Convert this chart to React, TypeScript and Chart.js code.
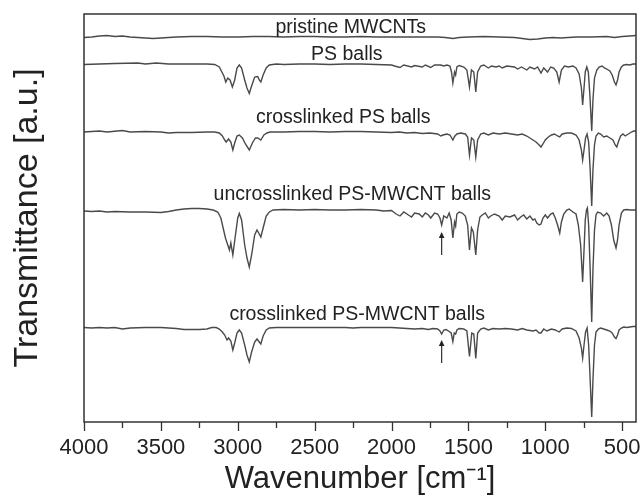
import { useEffect, useRef } from "react";
import { Chart, registerables } from "chart.js";

Chart.register(...registerables);

// ---- axis ticks (wavenumber, cm^-1) ----
const xTickValues = [4000, 3500, 3000, 2500, 2000, 1500, 1000, 500];
const xMinorTickValues = [3750, 3250, 2750, 2250, 1750, 1250, 750];

// ---- series names and vertical offsets (a.u.) ----
const seriesNames = [
  "pristine MWCNTs",
  "PS balls",
  "crosslinked PS balls",
  "uncrosslinked PS-MWCNT balls",
  "crosslinked PS-MWCNT balls",
];
const seriesOffsets = [385, 358, 290, 212, 94];

// ---- spectra: [wavenumber, relative transmittance] ----
const pristineMWCNTs: [number, number][] = [
  [4000, -0.5], [3950, 0], [3900, 1], [3850, 1.5], [3800, 0.5], [3750, 1], [3700, 0], [3650, -0.5],
  [3600, -1], [3550, -1.5], [3500, -1], [3450, -0.5], [3400, 0], [3300, 0.5], [3200, 0.5], [3100, 0],
  [3000, 0], [2900, 0.5], [2800, 0.5], [2700, 0], [2600, 0.5], [2500, 0.5], [2400, 0], [2300, 0],
  [2200, 0.5], [2100, 0], [2000, 0], [1900, 0], [1800, 0], [1700, 0], [1650, -0.5], [1600, -1.5],
  [1560, -0.5], [1500, 0], [1400, 0.5], [1300, 0], [1200, -0.5], [1150, -1.5], [1100, -2.5], [1050, -2],
  [1000, -1], [950, -0.5], [900, -1], [850, -0.5], [800, 0], [700, 0], [600, 0.5], [550, -0.5],
  [500, 0.5], [450, 1], [410, 1.5],
];

const psBalls: [number, number][] = [
  [4000, -0.5], [3900, 0], [3800, 0.5], [3650, 1], [3600, 0], [3530, 1], [3450, 0], [3300, 0],
  [3200, 0], [3150, -0.5], [3120, -3], [3100, -9], [3090, -12], [3078, -18], [3065, -14], [3050, -16],
  [3035, -23], [3020, -16], [3005, -4], [2990, -1], [2975, -4], [2955, -16], [2940, -24], [2925, -29.5],
  [2910, -22], [2890, -13], [2870, -12.5], [2860, -16], [2850, -18], [2835, -11], [2815, -4], [2795, -1],
  [2750, 0], [2700, -0.5], [2600, 0], [2500, 0], [2400, -0.5], [2300, 0], [2200, 0], [2100, -0.5],
  [2000, -1], [1980, -2], [1945, -3.5], [1920, -1], [1870, -3], [1850, -1.5], [1800, -3], [1780, -1],
  [1745, -3.5], [1720, -1], [1680, -1], [1660, -2], [1640, -1], [1620, -2], [1610, -8], [1601, -19],
  [1590, -8], [1583, -11], [1575, -3], [1560, -1.5], [1530, -3], [1510, -6], [1493, -23], [1480, -6],
  [1465, -8], [1452, -28], [1440, -8], [1420, -2], [1400, -1], [1370, -4], [1350, -2], [1320, -3],
  [1300, -2], [1280, -4], [1250, -2], [1200, -3], [1180, -5], [1155, -3], [1120, -6], [1100, -3],
  [1070, -5], [1050, -3], [1028, -9], [1010, -4], [985, -8], [965, -3], [945, -4], [925, -8],
  [910, -18], [895, -6], [875, -2], [850, -3], [820, -2], [800, -4], [780, -10], [765, -24],
  [757, -41], [748, -24], [740, -8], [730, -3], [720, -8], [710, -31], [698, -67], [690, -36],
  [680, -14], [665, -6], [650, -3], [630, -2], [615, -4], [600, -5], [580, -7], [565, -11],
  [550, -18], [540, -21], [530, -16], [520, -8], [505, -3], [490, -1], [470, -0.5], [450, -1],
  [430, 0], [410, 0],
];

const crosslinkedPSBalls: [number, number][] = [
  [4000, 0], [3950, 0.5], [3900, 1], [3850, 0], [3750, 1.5], [3700, 0], [3600, 0.5], [3500, 0],
  [3450, -1], [3400, -0.5], [3300, -0.5], [3200, 0], [3150, 0], [3120, -1], [3100, -4], [3085, -8],
  [3075, -10], [3060, -7], [3045, -10], [3032, -18], [3020, -11], [3005, -4], [2990, -3], [2970, -6],
  [2950, -12], [2925, -18], [2905, -11], [2885, -6], [2870, -6], [2850, -8], [2830, -3], [2810, -1],
  [2790, 0], [2700, 0], [2600, 0.5], [2500, 0.5], [2400, 0], [2300, 0.5], [2200, 0.5], [2100, 0],
  [2000, -0.5], [1950, 0], [1900, -1], [1850, -0.5], [1800, -1.5], [1750, -1], [1700, -2], [1680, -4],
  [1665, -3], [1640, -2], [1620, -3], [1601, -8], [1590, -4.5], [1575, -2], [1550, -1], [1520, -2],
  [1505, -5], [1493, -23], [1480, -6], [1465, -8], [1452, -25], [1440, -8], [1420, -2], [1400, -1],
  [1370, -3], [1340, -1], [1300, -2], [1260, -1], [1220, -2], [1180, -3], [1150, -2], [1120, -4],
  [1090, -7], [1060, -10], [1040, -13], [1028, -15], [1015, -12], [1000, -8], [980, -5], [960, -3],
  [940, -2], [920, -4], [906, -5], [890, -2], [860, -1], [830, -1], [800, -3], [780, -8],
  [765, -18], [757, -28], [748, -18], [738, -6], [728, -2], [718, -10], [708, -38], [698, -74],
  [690, -38], [680, -13], [670, -4], [655, -1], [640, -2], [620, -5], [600, -4], [580, -6],
  [560, -8], [545, -13], [535, -15], [525, -10], [510, -4], [495, -2], [480, -4], [460, -2],
  [440, 0], [425, 1], [410, 1],
];

const uncrosslinkedPSMWCNT: [number, number][] = [
  [4000, -1], [3950, -1.5], [3900, -1], [3850, -2], [3800, -1.5], [3700, -2], [3600, -2], [3500, -2.5],
  [3450, -1.5], [3400, 0], [3350, 1], [3300, 1.5], [3250, 1.5], [3200, 1], [3160, 0], [3130, -2],
  [3110, -8], [3095, -18], [3080, -28], [3065, -35], [3054, -40], [3045, -33], [3032, -45], [3015, -25],
  [3000, -8], [2990, -3.5], [2975, -10], [2955, -35], [2940, -48], [2925, -57], [2910, -45], [2890, -25],
  [2875, -20], [2860, -24], [2850, -27], [2835, -18], [2815, -6], [2795, -2], [2770, 0], [2700, 0.5],
  [2600, 0], [2500, 0.5], [2400, 0], [2300, 0], [2200, 0.5], [2100, 0], [2050, -1], [2000, -0.5],
  [1970, -4], [1945, -6], [1920, -2], [1890, -5], [1870, -7], [1850, -3], [1820, -4], [1800, -7],
  [1780, -3], [1760, -5], [1745, -8], [1720, -3], [1700, -4], [1685, -8], [1674, -15], [1660, -6],
  [1640, -8], [1625, -3], [1612, -10], [1601, -28], [1590, -12], [1583, -16], [1575, -4], [1560, -2],
  [1540, -3], [1520, -6], [1505, -15], [1493, -40], [1480, -18], [1468, -22], [1452, -45], [1440, -20],
  [1425, -7], [1410, -5], [1390, -3], [1370, -8], [1355, -6], [1330, -4], [1300, -6], [1280, -10],
  [1260, -6], [1230, -7], [1200, -5], [1180, -10], [1160, -7], [1140, -5], [1120, -9], [1100, -6],
  [1080, -10], [1068, -9], [1055, -13], [1040, -15], [1028, -14], [1015, -8], [1000, -5], [985, -8],
  [965, -4], [950, -3], [935, -8], [920, -15], [906, -23], [895, -12], [880, -4], [860, 0],
  [845, 1], [820, -2], [800, -4], [785, -15], [770, -35], [757, -72], [748, -40], [740, -10],
  [732, 0], [726, 2], [718, -15], [708, -60], [698, -112], [690, -60], [680, -20], [670, -5],
  [660, -2], [640, -3], [620, -6], [600, -3], [585, -6], [570, -15], [555, -30], [540, -38],
  [530, -30], [520, -15], [505, -3], [490, 0], [470, 0.5], [450, 0], [430, 0], [410, 0],
];

const crosslinkedPSMWCNT: [number, number][] = [
  [4000, 0.5], [3950, 0], [3900, 0.5], [3850, 0], [3800, 0.5], [3750, -1], [3700, 0], [3600, 0.5],
  [3500, 0.5], [3400, -0.5], [3350, -1.5], [3250, -1.5], [3200, -1], [3170, 0.5], [3140, 0.5], [3120, -1],
  [3100, -4], [3085, -7], [3070, -12], [3060, -10], [3045, -13], [3032, -22], [3020, -15], [3005, -5],
  [2990, -2], [2975, -5], [2955, -17], [2940, -27], [2925, -34], [2910, -24], [2890, -14], [2875, -11],
  [2860, -14], [2850, -16], [2835, -8], [2815, -2], [2795, 0], [2750, 0.5], [2700, 0.5], [2600, 0.5],
  [2500, 0.5], [2400, 0.5], [2300, 0.5], [2250, 0], [2200, 0.5], [2100, 0.5], [2000, 0.5], [1950, 0],
  [1900, -0.5], [1850, -1], [1800, -0.5], [1760, -1.5], [1730, -0.5], [1700, -1], [1685, -3], [1674, -6],
  [1660, -2], [1645, -1.5], [1630, -3], [1612, -5], [1601, -13.5], [1592, -5], [1583, -6], [1575, -2],
  [1560, -0.5], [1530, -1], [1510, -3], [1493, -28.5], [1478, -5], [1465, -6], [1452, -30.5], [1440, -5],
  [1420, -1], [1400, 0], [1370, -2], [1340, -0.5], [1300, -1], [1260, -0.5], [1220, -1], [1180, -2],
  [1150, -0.5], [1120, -2], [1080, -3], [1060, -2], [1040, -5], [1028, -5], [1010, -1], [990, -3],
  [960, -1], [935, -2], [910, -4], [890, -1], [860, 0], [830, -0.5], [800, -3], [780, -10],
  [765, -20], [757, -30], [748, -17], [738, -4], [728, 0], [718, -17], [708, -52], [698, -89],
  [690, -52], [680, -17], [670, -4], [655, -1], [640, 0], [620, -1], [600, -2], [580, -3],
  [565, -5], [550, -9], [540, -10.5], [530, -7], [520, -2], [505, 0], [490, 1], [470, 0.5],
  [450, 1], [430, 1.5], [410, 1.5],
];

const spectra = [pristineMWCNTs, psBalls, crosslinkedPSBalls, uncrosslinkedPSMWCNT, crosslinkedPSMWCNT];

// ---- label anchors (wavenumber, a.u.) ----
const labelWavenumbers = [2265, 2291, 2314, 2255, 2223];
const labelLevels = [394, 367, 304, 227, 107];

// ---- arrows marking the 1674 cm^-1 band ----
const arrowWavenumbers = [1674, 1674];
const arrowTails = [167, 59];
const arrowHeads = [190, 82];

const FONT = '"Liberation Sans", Arial, Helvetica, sans-serif';
const LINE = "#4a4a4a";
const INK = "#222222";

const decorPlugin = {
  id: "decor",
  afterDraw(chart: any) {
    const { ctx, chartArea: a } = chart;
    const x = chart.scales.x;
    const y = chart.scales.y;
    ctx.save();
    // frame
    ctx.strokeStyle = "#333333";
    ctx.lineWidth = 1.5;
    ctx.strokeRect(a.left, a.top, a.right - a.left, a.bottom - a.top);
    // ticks (outward)
    ctx.lineWidth = 1.3;
    ctx.beginPath();
    xTickValues.forEach((v) => {
      const px = Math.round(x.getPixelForValue(v)) + 0.5;
      ctx.moveTo(px, a.bottom);
      ctx.lineTo(px, a.bottom + 9);
    });
    xMinorTickValues.forEach((v) => {
      const px = Math.round(x.getPixelForValue(v)) + 0.5;
      ctx.moveTo(px, a.bottom);
      ctx.lineTo(px, a.bottom + 6);
    });
    ctx.stroke();
    // series labels
    ctx.fillStyle = INK;
    ctx.font = `19.5px ${FONT}`;
    ctx.textAlign = "center";
    ctx.textBaseline = "middle";
    seriesNames.forEach((name, i) => {
      ctx.fillText(name, x.getPixelForValue(labelWavenumbers[i]), y.getPixelForValue(labelLevels[i]));
    });
    // arrows
    ctx.strokeStyle = "#333333";
    ctx.fillStyle = "#222222";
    ctx.lineWidth = 1.2;
    arrowWavenumbers.forEach((w, i) => {
      const px = x.getPixelForValue(w);
      const yt = y.getPixelForValue(arrowTails[i]);
      const yh = y.getPixelForValue(arrowHeads[i]);
      ctx.beginPath();
      ctx.moveTo(px, yt);
      ctx.lineTo(px, yh + 5);
      ctx.stroke();
      ctx.beginPath();
      ctx.moveTo(px, yh);
      ctx.lineTo(px - 2.8, yh + 6);
      ctx.lineTo(px + 2.8, yh + 6);
      ctx.closePath();
      ctx.fill();
    });
    ctx.restore();
  },
};

export default function App() {
  const canvasRef = useRef<HTMLCanvasElement | null>(null);

  useEffect(() => {
    const canvas = canvasRef.current;
    if (!canvas) return;
    const datasets = spectra.map((s, i) => ({
      label: seriesNames[i],
      data: s.map(([w, t]) => ({ x: w, y: seriesOffsets[i] + t })),
      borderColor: LINE,
      borderWidth: 1.4,
      pointRadius: 0,
      fill: false,
      tension: 0,
    }));
    const chart = new Chart(canvas, {
      type: "line",
      data: { datasets },
      plugins: [decorPlugin],
      options: {
        animation: false,
        responsive: false,
        maintainAspectRatio: false,
        devicePixelRatio: 1,
        layout: { padding: { left: 0, top: 14, right: 6, bottom: 0 } },
        plugins: { legend: { display: false }, tooltip: { enabled: false } },
        scales: {
          x: {
            type: "linear",
            reverse: true,
            min: 410,
            max: 4000,
            grid: { display: false },
            border: { display: false },
            afterBuildTicks: (scale: any) => {
              scale.ticks = xTickValues.map((v) => ({ value: v }));
            },
            afterFit: (scale: any) => {
              scale.height = 76;
              scale.paddingLeft = 0;
              scale.paddingRight = 0;
            },
            ticks: {
              autoSkip: false,
              maxRotation: 0,
              padding: 5,
              color: INK,
              font: { family: FONT, size: 22 },
              callback: (v: any) => String(v),
            },
            title: {
              display: true,
              text: "Wavenumber [cm⁻¹]",
              color: INK,
              font: { family: FONT, size: 31 },
              padding: { top: 0, bottom: 0 },
            },
          },
          y: {
            type: "linear",
            min: 0,
            max: 408,
            grid: { display: false },
            border: { display: false },
            ticks: { display: false },
            afterFit: (scale: any) => {
              scale.width = 84;
              scale.paddingTop = 0;
              scale.paddingBottom = 0;
            },
            title: {
              display: true,
              text: "Transmittance [a.u.]",
              color: INK,
              font: { family: FONT, size: 34 },
              padding: { top: 7, bottom: 0 },
            },
          },
        },
      },
    });
    return () => chart.destroy();
  }, []);

  return (
    <div style={{ position: "absolute", left: 0, top: 0, width: 642, height: 498, background: "#fff" }}>
      <canvas ref={canvasRef} width={642} height={498} style={{ display: "block", width: 642, height: 498 }} />
    </div>
  );
}
